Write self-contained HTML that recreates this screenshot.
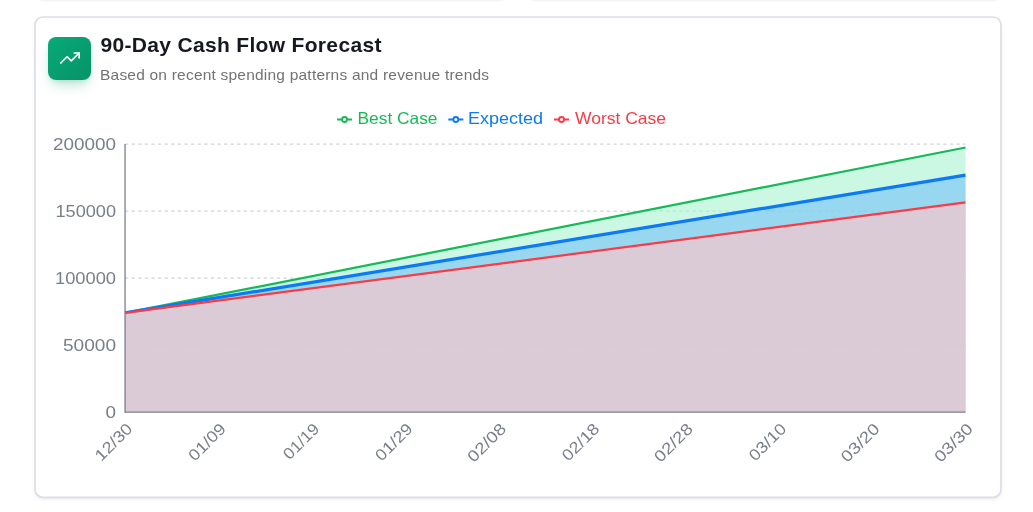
<!DOCTYPE html>
<html lang="en">
<head>
<meta charset="utf-8">
<title>90-Day Cash Flow Forecast</title>
<style>
  html,body{margin:0;padding:0;background:#fff;}
  body{width:1033px;height:512px;position:relative;overflow:hidden;font-family:"Liberation Sans",Arial,sans-serif;}
  .prev{position:absolute;top:-21px;height:20px;background:#fff;border-radius:8px;box-shadow:0 1px 3px rgba(10,15,25,.12);}
  .card{position:absolute;left:35px;top:17px;width:966px;height:480px;background:#fff;border-radius:8px;box-shadow:0 2px 4px rgba(10,15,25,.09),0 1px 2px rgba(10,15,25,.06);}
  .icon{position:absolute;left:48px;top:37px;width:43px;height:43px;border-radius:8px;background:linear-gradient(135deg,#08ab77 0%,#079268 100%);box-shadow:0 8px 14px -4px rgba(5,150,105,.28),0 3px 6px -3px rgba(5,150,105,.22);}
  .icon svg{position:absolute;left:12.15px;top:10.6px;}
  h2{position:absolute;left:100.4px;top:32px;margin:0;font-size:21px;line-height:26px;font-weight:700;color:#16191f;white-space:nowrap;letter-spacing:.33px;}
  p.sub{position:absolute;left:100.3px;top:65px;margin:0;font-size:15px;line-height:20px;color:#737373;white-space:nowrap;letter-spacing:.2px;transform-origin:0 0;transform:scaleX(1.034);}
  svg.chart{position:absolute;left:0;top:0;}
  svg.chart text{font-family:"Liberation Sans",Arial,sans-serif;}
</style>
</head>
<body>
<div class="prev" style="left:35px;width:473px;"></div>
<div class="prev" style="left:528px;width:473px;"></div>
<div class="card"></div>
<div class="icon">
  <svg width="20" height="20" viewBox="0 0 24 24" fill="none" stroke="#fff" stroke-width="2" stroke-linecap="round" stroke-linejoin="round"><polyline points="23 6 13.5 15.5 8.5 10.5 1 18"/><polyline points="17 6 23 6 23 12"/></svg>
</div>
<h2>90-Day Cash Flow Forecast</h2>
<p class="sub">Based on recent spending patterns and revenue trends</p>

<svg class="chart" width="1033" height="512" viewBox="0 0 1033 512">
  <rect x="35" y="17" width="966" height="480.3" rx="8" fill="none" stroke="#dcdfe6" stroke-width="1.7"/>
  <!-- grid -->
  <g stroke="#cfd3da" stroke-width="1.2" stroke-dasharray="3.3 3.3" fill="none">
    <line x1="125" y1="144.1" x2="965.5" y2="144.1"/>
    <line x1="125" y1="211.1" x2="965.5" y2="211.1"/>
    <line x1="125" y1="278.1" x2="965.5" y2="278.1"/>
    <line x1="125" y1="345.1" x2="965.5" y2="345.1"/>
  </g>
  <!-- areas -->
  <path d="M125,312.9 L965.5,147.5 L965.5,412 L125,412 Z" fill="#a7f3d0" fill-opacity="0.6"/>
  <path d="M125,312.9 L965.5,147.5" stroke="#16b958" stroke-width="2.2" fill="none"/>
  <path d="M125,312.9 L965.5,175.2 L965.5,412 L125,412 Z" fill="#77c1f9" fill-opacity="0.6"/>
  <path d="M125,312.9 L965.5,175.2" stroke="#0b79f8" stroke-width="3.2" fill="none"/>
  <path d="M125,312.9 L965.5,202.4 L965.5,412 L125,412 Z" fill="#ffc5c8" fill-opacity="0.65"/>
  <path d="M125,312.9 L965.5,202.4" stroke="#f93b47" stroke-width="2.2" fill="none"/>
  <!-- axes -->
  <line x1="125.05" y1="144" x2="125.05" y2="412.6" stroke="#7a7f8c" stroke-width="1.3"/>
  <line x1="124.6" y1="412.1" x2="965.5" y2="412.1" stroke="#7a7f8c" stroke-width="1.1"/>
  <!-- y labels -->
  <g fill="#797e8a" font-size="16" text-anchor="end">
    <text x="116" y="150.4" lengthAdjust="spacingAndGlyphs" textLength="63">200000</text>
    <text x="116" y="217.4" lengthAdjust="spacingAndGlyphs" textLength="60.5">150000</text>
    <text x="116" y="284.4" lengthAdjust="spacingAndGlyphs" textLength="61">100000</text>
    <text x="116" y="351.4" lengthAdjust="spacingAndGlyphs" textLength="53">50000</text>
    <text x="116" y="418.4" lengthAdjust="spacingAndGlyphs" textLength="10.5">0</text>
  </g>
  <!-- x labels -->
  <g fill="#797e8a" font-size="16" text-anchor="end">
    <text transform="translate(133.5,429.8) rotate(-45)" lengthAdjust="spacingAndGlyphs" textLength="45.5">12/30</text>
    <text transform="translate(226.9,429.8) rotate(-45)" lengthAdjust="spacingAndGlyphs" textLength="45.5">01/09</text>
    <text transform="translate(320.3,429.8) rotate(-45)" lengthAdjust="spacingAndGlyphs" textLength="43.5">01/19</text>
    <text transform="translate(413.7,429.8) rotate(-45)" lengthAdjust="spacingAndGlyphs" textLength="45.5">01/29</text>
    <text transform="translate(507.1,429.8) rotate(-45)" lengthAdjust="spacingAndGlyphs" textLength="47.2">02/08</text>
    <text transform="translate(600.5,429.8) rotate(-45)" lengthAdjust="spacingAndGlyphs" textLength="45.5">02/18</text>
    <text transform="translate(693.9,429.8) rotate(-45)" lengthAdjust="spacingAndGlyphs" textLength="47.2">02/28</text>
    <text transform="translate(787.3,429.8) rotate(-45)" lengthAdjust="spacingAndGlyphs" textLength="45.5">03/10</text>
    <text transform="translate(880.7,429.8) rotate(-45)" lengthAdjust="spacingAndGlyphs" textLength="47.2">03/20</text>
    <text transform="translate(974.0,429.8) rotate(-45)" lengthAdjust="spacingAndGlyphs" textLength="47.2">03/30</text>
  </g>
  <!-- legend -->
  <g font-size="16.5">
    <g transform="translate(337,112) scale(1.075)" fill="none" stroke="#16b958" stroke-width="1.75"><path d="M0,7h4.67A2.33,2.33,0,1,1,9.33,7H14M9.33,7A2.33,2.33,0,1,1,4.67,7"/></g>
    <text x="357.5" y="124" fill="#16b958" lengthAdjust="spacingAndGlyphs" textLength="80">Best Case</text>
    <g transform="translate(448.3,112) scale(1.075)" fill="none" stroke="#0b79f8" stroke-width="1.75"><path d="M0,7h4.67A2.33,2.33,0,1,1,9.33,7H14M9.33,7A2.33,2.33,0,1,1,4.67,7"/></g>
    <text x="468" y="124" fill="#0b79f8" lengthAdjust="spacingAndGlyphs" textLength="75">Expected</text>
    <g transform="translate(554,112) scale(1.075)" fill="none" stroke="#f93b47" stroke-width="1.75"><path d="M0,7h4.67A2.33,2.33,0,1,1,9.33,7H14M9.33,7A2.33,2.33,0,1,1,4.67,7"/></g>
    <text x="575" y="124" fill="#f93b47" lengthAdjust="spacingAndGlyphs" textLength="91">Worst Case</text>
  </g>
</svg>
</body>
</html>
